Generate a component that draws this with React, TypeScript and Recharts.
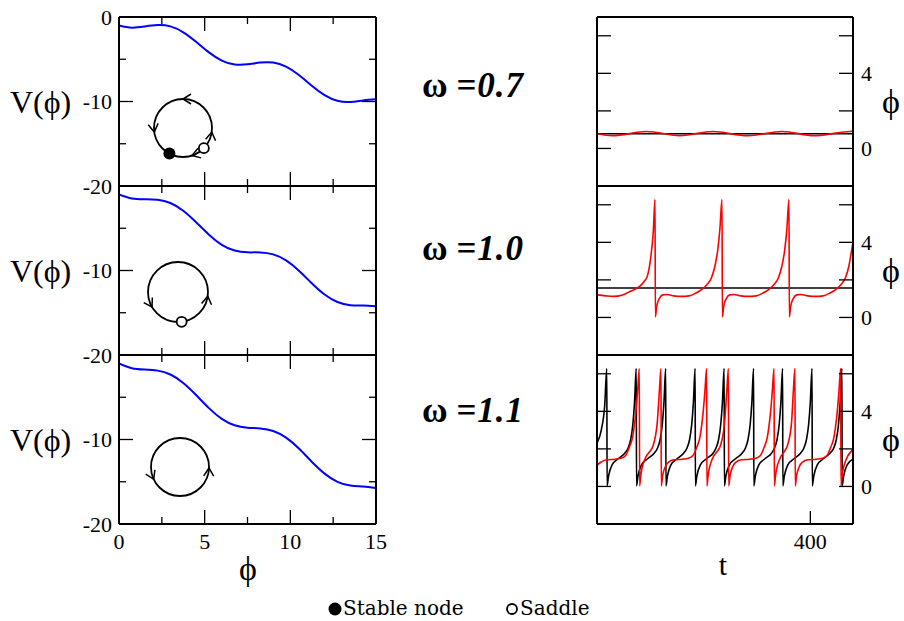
import React from "react";
import { LineChart, Line, XAxis, YAxis } from "recharts";

// potential V(phi) sampled on a phi grid, one array per omega
const phiGrid = [0, 0.75, 1.5, 2.25, 3, 3.75, 4.5, 5.25, 6, 6.75, 7.5, 8.25, 9, 9.75, 10.5, 11.25, 12, 12.75, 13.5, 14.25, 15];
const potential07 = [-1.0, -1.26, -1.12, -0.95, -1.11, -1.81, -2.94, -4.19, -5.16, -5.62, -5.6, -5.39, -5.39, -5.88, -6.87, -8.13, -9.24, -9.91, -10.05, -9.87, -9.74];
const potential10 = [-1.0, -1.48, -1.57, -1.62, -2.01, -2.93, -4.29, -5.76, -6.96, -7.64, -7.85, -7.86, -8.09, -8.81, -10.02, -11.5, -12.84, -13.73, -14.1, -14.14, -14.24];
const potential11 = [-1.0, -1.56, -1.72, -1.85, -2.31, -3.31, -4.74, -6.29, -7.56, -8.32, -8.6, -8.69, -8.99, -9.78, -11.07, -12.63, -14.04, -15.01, -15.45, -15.57, -15.74];

// time traces phi(t)
const tFixed = [150, 450];
const phiFixed07 = [0.78, 0.78];
const phiFixed10 = [1.57, 1.57];

const tRed07 = [150, 168, 188, 208, 228, 247, 266, 286, 306, 327, 347, 367, 386, 405, 426, 446, 450];
const phiRed07 = [0.78, 0.68, 0.79, 0.9, 0.79, 0.68, 0.79, 0.9, 0.79, 0.68, 0.79, 0.9, 0.79, 0.68, 0.79, 0.9, 0.89];

const tRed10 = [
  150, 160, 169, 180, 189, 200, 205, 209, 213, 216, 218,
  218.4, 220, 223, 227, 232, 240, 248, 258, 266, 273, 279, 284, 288, 291.5, 294, 296.5,
  296.9, 298.5, 301.5, 305.5, 310.5, 318.5, 326.5, 336.5, 344.5, 351.5, 357.5, 362.5, 366.5, 370, 372.5, 375,
  375.4, 377, 380, 384, 389, 397, 405, 415, 423, 430, 436, 441, 445, 448.5, 450,
];
const phiRed10 = [
  1.2, 1.15, 1.12, 1.2, 1.39, 1.65, 1.9, 2.2, 3.2, 4.6, 6.28,
  0.03, 0.6, 1.0, 1.2, 1.22, 1.15, 1.12, 1.15, 1.3, 1.5, 1.75, 2.1, 2.7, 3.6, 4.7, 6.28,
  0.03, 0.6, 1.0, 1.2, 1.22, 1.15, 1.12, 1.15, 1.3, 1.5, 1.75, 2.1, 2.7, 3.6, 4.7, 6.28,
  0.03, 0.6, 1.0, 1.2, 1.22, 1.15, 1.12, 1.15, 1.3, 1.5, 1.75, 2.1, 2.7, 3.6, 4.0,
];

const tBlack11 = [
  150, 155, 159, 161.5,
  161.8, 163.5, 167.5, 175.5, 182.5, 186.5, 189.5, 192, 194, 196,
  196.3, 198, 202, 210, 217, 221, 224, 226.5, 228.5, 230.5,
  230.8, 232.5, 236.5, 244.5, 251.5, 255.5, 258.5, 261, 263, 265,
  265.3, 267, 271, 279, 286, 289.5, 292.5, 295, 297, 299,
  299.3, 301, 305, 313, 320, 324, 327, 329.5, 331.5, 333.5,
  333.8, 335.5, 339.5, 347.5, 354.5, 358, 361, 363.5, 365.5, 367.5,
  367.8, 369.5, 373.5, 381.5, 388.5, 392.5, 395.5, 398, 400, 402,
  402.3, 404, 408, 416, 423, 427.5, 430.5, 433, 435, 437,
  437.3, 439, 443, 450,
];
const phiBlack11 = [
  2.3, 3.0, 4.3, 6.28,
  0.03, 0.55, 1.14, 1.5, 1.77, 2.05, 2.5, 3.3, 4.5, 6.28,
  0.03, 0.55, 1.14, 1.5, 1.77, 2.05, 2.5, 3.3, 4.5, 6.28,
  0.03, 0.55, 1.14, 1.5, 1.77, 2.05, 2.5, 3.3, 4.5, 6.28,
  0.03, 0.55, 1.14, 1.5, 1.77, 2.05, 2.5, 3.3, 4.5, 6.28,
  0.03, 0.55, 1.14, 1.5, 1.77, 2.05, 2.5, 3.3, 4.5, 6.28,
  0.03, 0.55, 1.14, 1.5, 1.77, 2.05, 2.5, 3.3, 4.5, 6.28,
  0.03, 0.55, 1.14, 1.5, 1.77, 2.05, 2.5, 3.3, 4.5, 6.28,
  0.03, 0.55, 1.14, 1.5, 1.77, 2.05, 2.5, 3.3, 4.5, 6.28,
  0.03, 0.55, 1.14, 1.45,
];

const tRed11 = [
  150, 155, 161, 171, 178, 183.6, 188, 191.6, 193.6, 195.6, 197.6, 199.6,
  199.9, 201.6, 204.1, 207.6, 211.6, 215.6, 218.6, 220.6, 223, 225,
  225.3, 227, 230, 234, 240, 250, 257, 262.5, 267, 270.5, 272.5, 274.5, 276.5, 278.5,
  278.8, 280.5, 283, 286.5, 290.5, 294.5, 297.5, 299.5, 302, 304,
  304.3, 306, 309, 313, 319, 329, 336, 341.5, 346, 349.5, 351.5, 353.5, 355.5, 357.5,
  357.8, 359.5, 362, 365.5, 369.5, 373, 376, 378, 380, 382,
  382.3, 384, 387, 391, 397, 407, 414, 419.6, 424, 427.6, 429.6, 431.6, 433.6, 435.6,
  435.9, 437.6, 440.1, 443.6, 447.6, 450,
];
const phiRed11 = [
  1.14, 1.3, 1.42, 1.45, 1.5, 1.65, 2.1, 2.6, 3.2, 4.0, 5.1, 6.28,
  0.03, 0.7, 1.2, 1.6, 1.85, 2.15, 2.7, 3.4, 5.0, 6.28,
  0.03, 0.6, 1.05, 1.3, 1.42, 1.45, 1.5, 1.65, 2.1, 2.6, 3.2, 4.0, 5.1, 6.28,
  0.03, 0.7, 1.2, 1.6, 1.85, 2.15, 2.7, 3.4, 5.0, 6.28,
  0.03, 0.6, 1.05, 1.3, 1.42, 1.45, 1.5, 1.65, 2.1, 2.6, 3.2, 4.0, 5.1, 6.28,
  0.03, 0.7, 1.2, 1.6, 1.85, 2.15, 2.7, 3.4, 5.0, 6.28,
  0.03, 0.6, 1.05, 1.3, 1.42, 1.45, 1.5, 1.65, 2.1, 2.6, 3.2, 4.0, 5.1, 6.28,
  0.03, 0.7, 1.2, 1.6, 1.85, 2.0,
];

const omegaLabels = ["0.7", "1.0", "1.1"];
const phiTicks = [0, 2.5, 5, 7.5, 10, 12.5, 15];
const phiMajor = [0, 5, 10, 15];
const vTicks = [-20, -15, -10, -5, 0];
const vMajor = [-20, -10, 0];
const rightPhiTicks = [0, 2, 4, 6];

const SERIF = "Liberation Serif";
const TOPS = [17, 186, 355];
const H = 169;
const PAD_T = 20;
const PAD_B = 40;

const zip = (xs: number[], ys: number[], key: string) => xs.map((x, i) => ({ [key]: x, v: ys[i] }));

const txt = (size: number, extra: React.CSSProperties = {}): React.CSSProperties => ({
  fontFamily: SERIF,
  fontSize: size,
  fill: "#000",
  ...extra,
});

type Side = "left" | "right" | "top" | "bottom";

const makeTick =
  (side: Side, major: number[] | null, labels: Record<string, string>, longLen = 14, shortLen = 7) =>
  (props: any) => {
    const { x, y, payload } = props;
    const v = payload.value;
    const isMajor = major === null || major.includes(v);
    const len = isMajor ? longLen : shortLen;
    let x2 = x;
    let y2 = y;
    if (side === "left") x2 = x + len;
    if (side === "right") x2 = x - len;
    if (side === "bottom") y2 = y - len;
    if (side === "top") y2 = y + len;
    const label = labels[String(v)];
    let text = null;
    if (label !== undefined) {
      if (side === "left")
        text = (
          <text x={x - 7} y={y} textAnchor="end" dominantBaseline="central" style={txt(22)}>
            {label}
          </text>
        );
      if (side === "right")
        text = (
          <text x={x + 8} y={y} textAnchor="start" dominantBaseline="central" style={txt(22)}>
            {label}
          </text>
        );
      if (side === "bottom")
        text = (
          <text x={x} y={y + 25} textAnchor="middle" style={txt(22)}>
            {label}
          </text>
        );
    }
    return (
      <g>
        {len > 0 && <line x1={x} y1={y} x2={x2} y2={y2} stroke="#000" strokeWidth={1.3} />}
        {text}
      </g>
    );
  };

const axisLine = { stroke: "#000", strokeWidth: 2 };

function PotentialPanel({ values, index }: { values: number[]; index: number }) {
  const data = zip(phiGrid, values, "phi");
  const leftLabels: Record<string, string> = index === 0 ? { "0": "0", "-10": "-10", "-20": "-20" } : { "-10": "-10", "-20": "-20" };
  const bottomLabels: Record<string, string> = index === 2 ? { "0": "0", "5": "5", "10": "10", "15": "15" } : {};
  return (
    <div style={{ position: "absolute", left: 0, top: TOPS[index] - PAD_T }}>
      <LineChart width={400} height={H + PAD_T + PAD_B} data={data} margin={{ top: PAD_T - 1, bottom: PAD_B - 1, left: 118, right: 23 }}>
        <XAxis xAxisId="b" dataKey="phi" type="number" domain={[0, 15]} ticks={phiTicks} interval={0} height={1}
          tickSize={0} tickMargin={0} tickLine={false} axisLine={axisLine} tick={makeTick("bottom", phiMajor, bottomLabels)} allowDataOverflow />
        <XAxis xAxisId="t" orientation="top" dataKey="phi" type="number" domain={[0, 15]} ticks={phiTicks} interval={0} height={1}
          tickSize={0} tickMargin={0} tickLine={false} axisLine={axisLine} tick={makeTick("top", phiMajor, {})} allowDataOverflow />
        <YAxis yAxisId="l" type="number" domain={[-20, 0]} ticks={vTicks} interval={0} width={1}
          tickSize={0} tickMargin={0} tickLine={false} axisLine={axisLine} tick={makeTick("left", vMajor, leftLabels)} allowDataOverflow />
        <YAxis yAxisId="r" orientation="right" type="number" domain={[-20, 0]} ticks={vTicks} interval={0} width={1}
          tickSize={0} tickMargin={0} tickLine={false} axisLine={axisLine} tick={makeTick("right", vMajor, {})} allowDataOverflow />
        <Line xAxisId="b" yAxisId="l" type="natural" dataKey="v" stroke="#0000ff" strokeWidth={2} dot={false} isAnimationActive={false} />
      </LineChart>
    </div>
  );
}

function TracePanel({ index, black, red }: { index: number; black: { t: number; v: number }[]; red: { t: number; v: number }[] }) {
  const bottomTicks = index === 2 ? [400] : [];
  return (
    <div style={{ position: "absolute", left: 560, top: TOPS[index] - PAD_T }}>
      <LineChart width={340} height={H + PAD_T + PAD_B} margin={{ top: PAD_T - 1, bottom: PAD_B - 1, left: 36, right: 46 }}>
        <XAxis xAxisId="b" dataKey="t" type="number" domain={[150, 450]} ticks={bottomTicks} interval={0} height={1}
          tickSize={0} tickMargin={0} tickLine={false} axisLine={axisLine} tick={makeTick("bottom", null, { "400": "400" }, 13)} allowDataOverflow />
        <XAxis xAxisId="t" orientation="top" dataKey="t" type="number" domain={[150, 450]} ticks={[]} height={1}
          tickSize={0} tickMargin={0} tickLine={false} axisLine={axisLine} tick={false} allowDataOverflow />
        <YAxis yAxisId="l" type="number" domain={[-2, 7]} ticks={rightPhiTicks} interval={0} width={1}
          tickSize={0} tickMargin={0} tickLine={false} axisLine={axisLine} tick={makeTick("left", null, {}, 14)} allowDataOverflow />
        <YAxis yAxisId="r" orientation="right" type="number" domain={[-2, 7]} ticks={rightPhiTicks} interval={0} width={1}
          tickSize={0} tickMargin={0} tickLine={false} axisLine={axisLine} tick={makeTick("right", null, { "0": "0", "4": "4" }, 14)} allowDataOverflow />
        <Line xAxisId="b" yAxisId="l" data={black} type="monotone" dataKey="v" stroke="#000" strokeWidth={1.6} dot={false} isAnimationActive={false} />
        <Line xAxisId="b" yAxisId="l" data={red} type={index === 0 ? "natural" : "monotone"} dataKey="v" stroke="#ff0000" strokeWidth={1.6} dot={false} isAnimationActive={false} />
      </LineChart>
    </div>
  );
}

// schematic circle insets: arrows given as [angle in degrees, direction]
function Inset({ cx, cy, r, arrows, node, saddle }: { cx: number; cy: number; r: number; arrows: [number, number][]; node?: number; saddle?: number }) {
  const pt = (a: number) => [cx + r * Math.cos((a * Math.PI) / 180), cy + r * Math.sin((a * Math.PI) / 180)];
  return (
    <g>
      <circle cx={cx} cy={cy} r={r} fill="none" stroke="#000" strokeWidth={1.8} />
      {arrows.map(([a, dir], i) => {
        const rad = (a * Math.PI) / 180;
        const [px, py] = pt(a);
        const dx = -Math.sin(rad) * dir;
        const dy = Math.cos(rad) * dir;
        const nx = Math.cos(rad);
        const ny = Math.sin(rad);
        const bx = px - dx * 8;
        const by = py - dy * 8;
        return (
          <polyline key={i} points={`${bx + nx * 5},${by + ny * 5} ${px},${py} ${bx - nx * 5},${by - ny * 5}`} fill="none" stroke="#000" strokeWidth={1.5} />
        );
      })}
      {node !== undefined && <circle cx={pt(node)[0]} cy={pt(node)[1]} r={6} fill="#000" />}
      {saddle !== undefined && <circle cx={pt(saddle)[0]} cy={pt(saddle)[1]} r={5} fill="#fff" stroke="#000" strokeWidth={1.8} />}
    </g>
  );
}

export default function App() {
  const potentials = [potential07, potential10, potential11];
  const blacks = [zip(tFixed, phiFixed07, "t"), zip(tFixed, phiFixed10, "t"), zip(tBlack11, phiBlack11, "t")];
  const reds = [zip(tRed07, phiRed07, "t"), zip(tRed10, phiRed10, "t"), zip(tRed11, phiRed11, "t")];
  const omegaBaselines = [97, 260, 422];
  return (
    <div style={{ position: "absolute", left: 0, top: 0, width: 904, height: 621, background: "#fff", overflow: "hidden" }}>
      {potentials.map((vals, i) => (
        <PotentialPanel key={i} values={vals} index={i} />
      ))}
      {blacks.map((b, i) => (
        <TracePanel key={i} index={i} black={b} red={reds[i]} />
      ))}
      <svg width={904} height={621} style={{ position: "absolute", left: 0, top: 0, pointerEvents: "none" }}>
        {TOPS.map((top, i) => (
          <g key={i}>
            <text x={10} y={top + H / 2} dominantBaseline="central" style={txt(32)}>
              V(ϕ)
            </text>
            <text x={882} y={top + H / 2} dominantBaseline="central" style={txt(34)}>
              ϕ
            </text>
            <text x={422} y={omegaBaselines[i]} style={txt(35, { fontWeight: "bold" })}>
              ω <tspan style={{ fontStyle: "italic", letterSpacing: 1 }}>={omegaLabels[i]}</tspan>
            </text>
          </g>
        ))}
        <text x={248} y={580} textAnchor="middle" style={txt(34)}>
          ϕ
        </text>
        <text x={723} y={575} textAnchor="middle" style={txt(30)}>
          t
        </text>
        <Inset cx={183} cy={128} r={29} arrows={[[270, -1], [172, -1], [8, -1], [72, 1]]} node={118} saddle={44} />
        <Inset cx={178} cy={292} r={30} arrows={[[150, -1], [8, -1]]} saddle={83} />
        <Inset cx={180} cy={467} r={29} arrows={[[155, -1], [2, -1]]} />
        <circle cx={335} cy={609} r={6.5} fill="#000" />
        <text x={343} y={615} style={txt(20, { fontFamily: "DejaVu Serif" })}>
          Stable node
        </text>
        <circle cx={512} cy={609} r={5} fill="#fff" stroke="#000" strokeWidth={1.8} />
        <text x={520} y={615} style={txt(20, { fontFamily: "DejaVu Serif" })}>
          Saddle
        </text>
      </svg>
    </div>
  );
}
